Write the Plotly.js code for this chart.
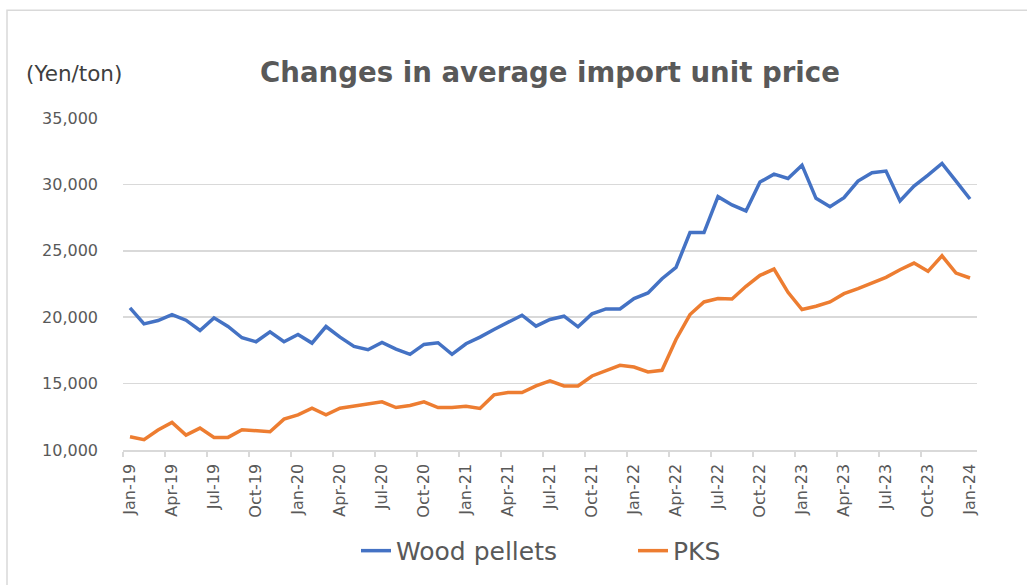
<!DOCTYPE html>
<html>
<head>
<meta charset="utf-8">
<script src="https://cdn.plot.ly/plotly-3.0.1.min.js"></script>
<style>html,body{margin:0;padding:0;background:#fff;}#chart{width:1027px;height:585px;}</style>
</head>
<body>
<div id="chart"></div>
<script>
const months = ["Jan-19","Feb-19","Mar-19","Apr-19","May-19","Jun-19","Jul-19","Aug-19","Sep-19","Oct-19","Nov-19","Dec-19",
"Jan-20","Feb-20","Mar-20","Apr-20","May-20","Jun-20","Jul-20","Aug-20","Sep-20","Oct-20","Nov-20","Dec-20",
"Jan-21","Feb-21","Mar-21","Apr-21","May-21","Jun-21","Jul-21","Aug-21","Sep-21","Oct-21","Nov-21","Dec-21",
"Jan-22","Feb-22","Mar-22","Apr-22","May-22","Jun-22","Jul-22","Aug-22","Sep-22","Oct-22","Nov-22","Dec-22",
"Jan-23","Feb-23","Mar-23","Apr-23","May-23","Jun-23","Jul-23","Aug-23","Sep-23","Oct-23","Nov-23","Dec-23","Jan-24"];

const woodPellets = [20700,19500,19750,20200,19775,19000,19950,19300,18450,18150,18900,18150,
18700,18050,19300,18500,17800,17550,18100,17600,17200,17950,18075,17200,
18000,18500,19075,19650,20150,19325,19825,20075,19275,20250,20625,20625,
21400,21825,22900,23750,26375,26375,29075,28450,28000,30175,30775,30450,
31450,28950,28325,29000,30250,30875,31000,28750,29875,30700,31575,30250,28900];

const pks = [11000,10775,11500,12075,11125,11650,10950,10950,11525,11425,11375,12325,
12650,13150,12650,13150,13300,13500,13625,13200,13350,13625,13200,13200,
13300,13125,14150,14325,14325,14825,15200,14825,14825,15575,15950,16375,
16250,15875,16000,18325,20200,21150,21400,21375,22325,23150,23625,21875,
20575,20825,21150,21775,22150,22575,23000,23575,24075,23450,24625,23325,22950];

const seriesNames = ["Wood pellets", "PKS"];
const chartTitle = "Changes in average import unit price";
const unitLabel = "(Yen/ton)";

const idx = months.map((m, i) => i);
const labelIdx = idx.filter(i => i % 3 === 0);
const labelText = labelIdx.map(i => months[i]);
const boundaryTicks = idx.filter(i => i % 3 === 0 && i < 60).map(i => i - 0.5);

const gray = "#595959";
const grid = "#d9d9d9";

const traces = [
  {x: idx, y: woodPellets, name: seriesNames[0], type: "scatter", mode: "lines",
   line: {color: "#4472C4", width: 3.5}},
  {x: idx, y: pks, name: seriesNames[1], type: "scatter", mode: "lines",
   line: {color: "#ED7D31", width: 3.5}}
];

const layout = {
  width: 1027, height: 585,
  margin: {l: 123, r: 50, t: 118, b: 134},
  paper_bgcolor: "#fff", plot_bgcolor: "#fff",
  font: {family: "DejaVu Sans, Verdana, sans-serif", color: gray},
  title: {text: "<b>" + chartTitle + "</b>", font: {size: 27.6, color: gray, family: "DejaVu Sans, sans-serif"},
          x: 0.5, xref: "paper", xanchor: "center", y: 1 - 72/585, yref: "container", yanchor: "middle"},
  showlegend: true,
  legend: {orientation: "h", x: (356 - 123) / 854, xanchor: "left", y: -0.30, yanchor: "middle",
           font: {size: 25, color: gray}, entrywidth: 232, entrywidthmode: "pixels", bgcolor: "rgba(0,0,0,0)"},
  xaxis: {
    range: [-0.5, 60.5], showgrid: false, zeroline: false,
    showline: true, linecolor: grid, linewidth: 1.5,
    tickmode: "array", tickvals: labelIdx, ticktext: labelText, ticks: "",
    tickangle: -90, tickfont: {size: 16, color: gray}, ticklabelstandoff: 6,
    minor: {tickmode: "array", tickvals: boundaryTicks, ticks: "outside", ticklen: 5, tickwidth: 1.5, tickcolor: grid, showgrid: false}
  },
  yaxis: {
    range: [10000, 35000], tickmode: "linear", tick0: 10000, dtick: 5000,
    tickformat: ",", showgrid: true, gridcolor: grid, gridwidth: 1.5,
    zeroline: false, showline: false, ticks: "", ticklabelstandoff: 24,
    tickfont: {size: 16, color: gray}
  },
  annotations: [
    {text: unitLabel, xref: "paper", yref: "paper", x: (24 - 123) / 854, y: (451 - 73) / 333,
     xanchor: "left", yanchor: "middle", showarrow: false, font: {size: 21.5, color: "#404040"}}
  ],
  shapes: [
    {type: "rect", xref: "paper", yref: "paper", x0: (7 - 123) / 854, x1: 1.2, y0: -0.6, y1: (451 - 10) / 333,
     line: {color: grid, width: 1.5}, fillcolor: "rgba(0,0,0,0)", layer: "below"}
  ]
};

Plotly.newPlot("chart", traces, layout, {displayModeBar: false, staticPlot: true});
</script>
</body>
</html>
